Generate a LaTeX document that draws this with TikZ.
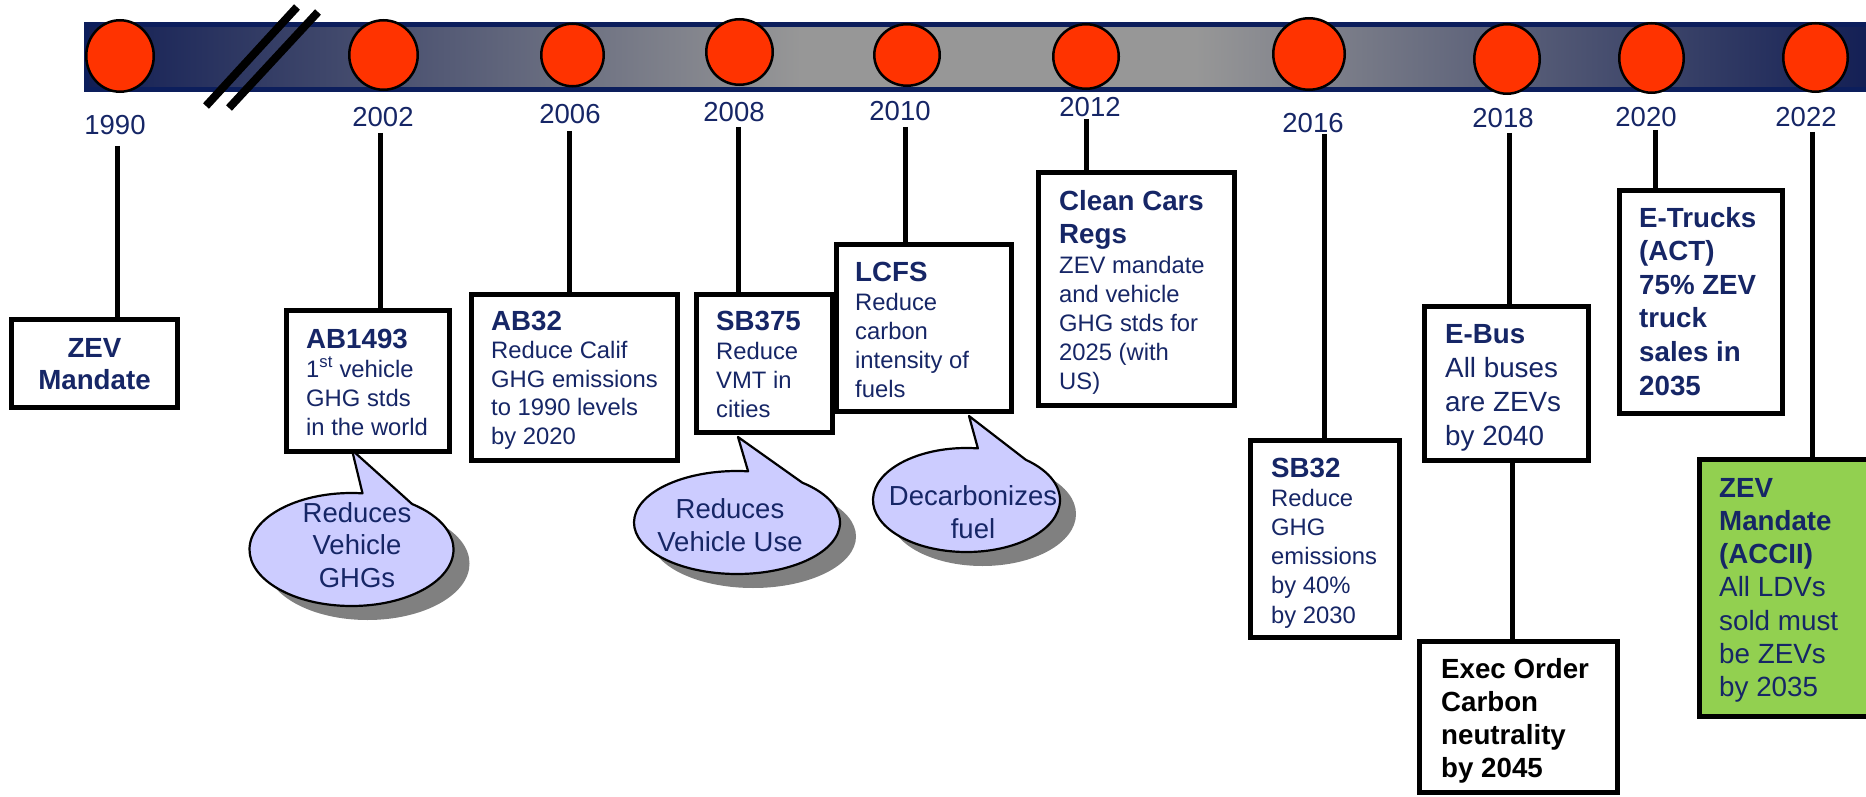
\documentclass[tikz,border=0pt]{standalone}
\usepackage{fontspec}
\setmainfont{Liberation Sans}
\usetikzlibrary{calc,shapes.geometric}
\definecolor{barnavy}{RGB}{12,30,92}
\definecolor{shnavy}{RGB}{18,30,84}
\definecolor{shgray}{RGB}{151,151,151}
\definecolor{txtnavy}{RGB}{22,38,102}
\definecolor{dotred}{RGB}{255,51,0}
\definecolor{bubblefill}{RGB}{204,204,255}
\definecolor{shadowgray}{RGB}{128,128,128}
\definecolor{zevgreen}{RGB}{146,208,80}
\pgfdeclarehorizontalshading{barshade}{100bp}{color(0bp)=(shnavy); color(25bp)=(shnavy); color(45bp)=(shgray); color(56bp)=(shgray); color(75bp)=(shnavy); color(100bp)=(shnavy)}
\newcommand\yearfont{\fontsize{27.5}{33}\selectfont}
\newcommand\bubblefont{\fontsize{27.5}{33}\selectfont}
\newcommand\ttlline[1]{\hbox{\fontsize{27.7}{33}\selectfont\bfseries #1}}
\newcommand\bodyline[1]{\hbox{\fontsize{23.8}{29}\selectfont #1}}
\newcommand\bigline[1]{\hbox{\fontsize{27.8}{33}\selectfont #1}}
\newcommand\ctrline[1]{\hbox to 0pt{\hss #1\hss}}
\begin{document}
\begin{tikzpicture}[x=1pt,y=-1pt,
  box/.style={rectangle, draw=black, line width=5pt, fill=white, inner sep=0pt, outer sep=0pt},
  conn/.style={draw=black, line width=5pt},
  dot/.style={ellipse, draw=black, line width=2.5pt, fill=dotred, inner sep=0pt},
  yr/.style={anchor=base, inner sep=0pt, text=txtnavy, font=\yearfont},
  txt/.style={anchor=base west, inner sep=0pt, text=txtnavy},
  ctxt/.style={anchor=base, inner sep=0pt, text=txtnavy},
  bubble/.style={fill=bubblefill, draw=black, line width=2.2pt, line join=round},
  bshadow/.style={fill=shadowgray},
  brk/.style={draw=black, line width=8pt}]
\useasboundingbox (0,0) rectangle (1866,797);
\clip (0,0) rectangle (1866,797);

% timeline bar
\shadedraw[shading=barshade, draw=barnavy, line width=5pt] (86,24.5) rectangle (1875,89.5);

% dots
\node[dot, minimum width=67.5, minimum height=71.5] (d1990) at (120,56) {};
\node[dot, minimum width=68.5, minimum height=69.5] (d2002) at (383.5,55) {};
\node[dot, minimum width=62.5, minimum height=62.5] (d2006) at (572.5,55) {};
\node[dot, minimum width=66.5, minimum height=65.5] (d2008) at (739.5,52) {};
\node[dot, minimum width=65.5, minimum height=61.5] (d2010) at (907,55) {};
\node[dot, minimum width=65.5, minimum height=64.5] (d2012) at (1086,56.5) {};
\node[dot, minimum width=71.5, minimum height=71.5] (d2016) at (1309,54) {};
\node[dot, minimum width=65.5, minimum height=69.5] (d2018) at (1507,59) {};
\node[dot, minimum width=64.5, minimum height=69.5] (d2020) at (1651.5,58) {};
\node[dot, minimum width=64.5, minimum height=68.5] (d2022) at (1815.5,57.5) {};

% break marks
\coordinate (bk1a) at (206,106); \coordinate (bk1b) at (297,7);
\coordinate (bk2a) at (229,108); \coordinate (bk2b) at (318,12);
\draw[brk] (bk1a) -- (bk1b);
\draw[brk] (bk2a) -- (bk2b);

% year labels
\node[yr] (y1990) at (115,135) {1990};
\node[yr] (y2002) at (383,127) {2002};
\node[yr] (y2006) at (570,124) {2006};
\node[yr] (y2008) at (734,122) {2008};
\node[yr] (y2010) at (900,121) {2010};
\node[yr] (y2012) at (1090,117) {2012};
\node[yr] (y2016) at (1313,132) {2016};
\node[yr] (y2018) at (1503,128) {2018};
\node[yr] (y2020) at (1646,127) {2020};
\node[yr] (y2022) at (1806,127) {2022};

% boxes
\node[box, minimum width=166, minimum height=88] (zev) at (94.5,363.5) {};
\node[box, minimum width=163, minimum height=141] (ab1493) at (368,381) {};
\node[box, minimum width=206, minimum height=166] (ab32) at (574.5,377.5) {};
\node[box, minimum width=136, minimum height=138] (sb375) at (764.5,363.5) {};
\node[box, minimum width=175, minimum height=167] (lcfs) at (924,328) {};
\node[box, minimum width=196, minimum height=233] (cc) at (1136.5,289) {};
\node[box, minimum width=149, minimum height=197] (sb32) at (1325,539) {};
\node[box, minimum width=164, minimum height=154] (ebus) at (1506.5,383.5) {};
\node[box, minimum width=198, minimum height=151] (exec) at (1518.5,717) {};
\node[box, minimum width=163, minimum height=223] (etrucks) at (1701,302) {};
\node[box, fill=zevgreen, minimum width=170, minimum height=257] (acc) at (1784.5,588) {};

% connectors
\coordinate (k1990) at (117,146);
\coordinate (k2002) at (380,133);
\coordinate (k2006) at (569,131);
\coordinate (k2008) at (738,127);
\coordinate (k2010) at (905,127);
\coordinate (k2012) at (1086,119);
\coordinate (k2016) at (1324,134);
\coordinate (k2018) at (1509,133);
\coordinate (k2018b) at (1512,463);
\coordinate (k2020) at (1655,130);
\coordinate (k2022) at (1812,132);
\draw[conn] (k1990) -- (k1990 |- zev.north);
\draw[conn] (k2002) -- (k2002 |- ab1493.north);
\draw[conn] (k2006) -- (k2006 |- ab32.north);
\draw[conn] (k2008) -- (k2008 |- sb375.north);
\draw[conn] (k2010) -- (k2010 |- lcfs.north);
\draw[conn] (k2012) -- (k2012 |- cc.north);
\draw[conn] (k2016) -- (k2016 |- sb32.north);
\draw[conn] (k2018) -- (k2018 |- ebus.north);
\draw[conn] (k2018b |- ebus.south) -- (k2018b |- exec.north);
\draw[conn] (k2020) -- (k2020 |- etrucks.north);
\draw[conn] (k2022) -- (k2022 |- acc.north);

% box texts
\node[ctxt] (zev-t) at (94.5,357) {\vtop{\baselineskip=32pt\ctrline{\ttlline{ZEV}}\ctrline{\ttlline{Mandate}}}};
\node[txt] (ab1493-t) at (306,348) {\vtop{\baselineskip=29pt\ttlline{AB1493}\bodyline{1\textsuperscript{st} vehicle}\bodyline{GHG stds}\bodyline{in the world}}};
\node[txt] (ab32-t) at (491,330) {\vtop{\baselineskip=29.5pt\ttlline{AB32}\baselineskip=28.5pt\bodyline{Reduce Calif}\bodyline{GHG emissions}\bodyline{to 1990 levels}\bodyline{by 2020}}};
\node[txt] (sb375-t) at (716,330) {\vtop{\baselineskip=29.3pt\ttlline{SB375}\bodyline{Reduce}\bodyline{VMT in}\bodyline{cities}}};
\node[txt] (lcfs-t) at (855,281) {\vtop{\baselineskip=29pt\ttlline{LCFS}\bodyline{Reduce}\bodyline{carbon}\bodyline{intensity of}\bodyline{fuels}}};
\node[txt] (cc-t) at (1059,210) {\vtop{\baselineskip=33pt\ttlline{Clean Cars}\ttlline{Regs}\baselineskip=30pt\bodyline{ZEV mandate}\baselineskip=29pt\bodyline{and vehicle}\bodyline{GHG stds for}\bodyline{2025 (with}\bodyline{US)}}};
\node[txt] (sb32-t) at (1271,477) {\vtop{\baselineskip=29.2pt\ttlline{SB32}\bodyline{Reduce}\bodyline{GHG}\bodyline{emissions}\bodyline{by 40\%}\bodyline{by 2030}}};
\node[txt] (ebus-t) at (1445,343) {\vtop{\baselineskip=34pt\ttlline{E-Bus}\bigline{All buses}\bigline{are ZEVs}\bigline{by 2040}}};
\node[txt, text=black] (exec-t) at (1441,678) {\vtop{\baselineskip=33pt\ttlline{Exec Order}\ttlline{Carbon}\ttlline{neutrality}\ttlline{by 2045}}};
\node[txt] (etrucks-t) at (1639,227) {\vtop{\baselineskip=33.6pt\ttlline{E-Trucks}\ttlline{(ACT)}\ttlline{75\% ZEV}\ttlline{truck}\ttlline{sales in}\ttlline{2035}}};
\node[txt] (acc-t) at (1719,497) {\vtop{\baselineskip=33.3pt\ttlline{ZEV}\ttlline{Mandate}\ttlline{(ACCII)}\bigline{All LDVs}\bigline{sold must}\bigline{be ZEVs}\bigline{by 2035}}};

% bubble 1
\coordinate (b1c) at (351.5,549.5);
\coordinate (b1p) at (352,450);
\fill[bshadow] ($(b1c)+(16,14)$) ellipse [x radius=102, y radius=56.5];
\filldraw[bubble] (b1p) -- ($(b1c)+(-83.8:102 and 56.5)$) arc[start angle=-83.8, end angle=-413.5, x radius=102, y radius=56.5] -- cycle;
\node[ctxt, font=\bubblefont] (b1-t) at (357,522) {\vtop{\baselineskip=32.5pt\ctrline{Reduces}\ctrline{Vehicle}\ctrline{GHGs}}};

% bubble 2
\coordinate (b2c) at (737,522.5);
\coordinate (b2p) at (738,437);
\fill[bshadow] ($(b2c)+(16,14)$) ellipse [x radius=103, y radius=51.5];
\filldraw[bubble] (b2p) -- ($(b2c)+(-83.8:103 and 51.5)$) arc[start angle=-83.8, end angle=-410.6, x radius=103, y radius=51.5] -- cycle;
\node[ctxt, font=\bubblefont] (b2-t) at (730,518) {\vtop{\baselineskip=33pt\ctrline{Reduces}\ctrline{Vehicle Use}}};

% bubble 3
\coordinate (b3c) at (966.5,500);
\coordinate (b3p) at (969,416);
\fill[bshadow] ($(b3c)+(16,14)$) ellipse [x radius=93.5, y radius=52];
\filldraw[bubble] (b3p) -- ($(b3c)+(-83:93.5 and 52)$) arc[start angle=-83, end angle=-410.6, x radius=93.5, y radius=52] -- cycle;
\node[ctxt, font=\bubblefont] (b3-t) at (973,505) {\vtop{\baselineskip=33pt\ctrline{Decarbonizes}\ctrline{fuel}}};
\end{tikzpicture}
\end{document}
